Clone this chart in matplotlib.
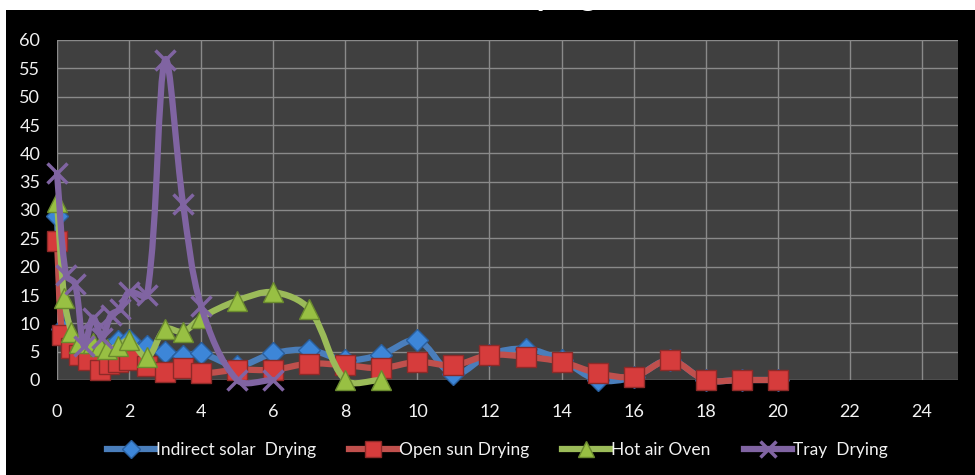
import numpy as np
import matplotlib.pyplot as plt
from matplotlib.path import Path
from matplotlib.patches import PathPatch, Rectangle
from matplotlib.lines import Line2D

plt.rcParams['font.family'] = ['Lato', 'DejaVu Sans']

# drying time (h) and drying rate readings for each method
t_indirect = [0, 0.15, 0.4, 0.6, 0.85, 1.2, 1.45, 1.7, 2, 2.5, 3, 3.5, 4, 5, 6, 7, 8, 9, 10,
              11, 12, 13, 14, 15, 16, 17, 18, 19, 20]
r_indirect = [29, 9, 7, 5.5, 5, 4.5, 5.5, 6.8, 7, 6, 5, 4.3, 4.7, 2.5, 4.7, 5.3, 3.5, 4.5, 7,
              1, 4.5, 5.5, 3.5, 0, 0.5, 3.5, 0, 0, 0]

t_opensun = [0, 0.15, 0.4, 0.6, 0.85, 1.2, 1.45, 1.7, 2, 2.5, 3, 3.5, 4, 5, 6, 7, 8, 9, 10,
             11, 12, 13, 14, 15, 16, 17, 18, 19, 20]
r_opensun = [24.5, 8, 5.6, 4.4, 3.5, 1.8, 2.9, 3.2, 3.5, 2.4, 1.5, 2.1, 1.2, 1.8, 1.8, 2.9, 2.6,
             2.1, 3.2, 2.6, 4.4, 4.1, 3.2, 1.2, 0.6, 3.5, 0, 0, 0]

t_oven = [0, 0.2, 0.4, 0.6, 1, 1.2, 1.4, 1.7, 2, 2.5, 3, 3.5, 4, 5, 6, 7, 8, 9]
r_oven = [31.5, 14.5, 8.5, 6.5, 6.5, 6, 5.5, 6, 7, 4, 9, 8.5, 11, 14, 15.5, 12.5, 0, 0]

t_tray = [0, 0.25, 0.5, 0.75, 1, 1.25, 1.5, 1.75, 2, 2.5, 3, 3.5, 4, 5, 6]
r_tray = [36.5, 18.5, 17, 6, 11, 7.5, 11.5, 12.5, 15.5, 15, 56.5, 31, 13, 0, 0]

labels = ['Indirect solar  Drying', 'Open sun Drying', 'Hot air Oven', 'Tray  Drying']

# rough pixels per data unit, used to weight the spline tangents
SX, SY = 36.0, 5.67


def smooth_path(x, y):
    # spline through the points as cubic bezier segments, tangents scaled by chord length
    p = np.column_stack([x, y]).astype(float)
    n = len(p)
    scale = np.array([SX, SY])

    def dist(a, b):
        return np.hypot(*((b - a) * scale))

    verts = [p[0]]
    codes = [Path.MOVETO]
    for i in range(n - 1):
        p0 = p[i - 1] if i > 0 else p[i]
        p1 = p[i]
        p2 = p[i + 1]
        p3 = p[i + 2] if i + 2 < n else p[i + 1]
        d01, d12, d23 = dist(p0, p1), dist(p1, p2), dist(p2, p3)
        w1 = d12 / (d01 + d12) if d01 + d12 > 0 else 0.5
        w2 = d12 / (d12 + d23) if d12 + d23 > 0 else 0.5
        c1 = p1 + (p2 - p0) * w1 / 3.0
        c2 = p2 - (p3 - p1) * w2 / 3.0
        verts += [c1, c2, p2]
        codes += [Path.CURVE4] * 3
    return Path(verts, codes)


fig = plt.figure(figsize=(9.75, 4.75), dpi=100)
fig.patch.set_facecolor('black')
# white margins along the top and left edge
fig.patches.append(Rectangle((0, 1 - 10 / 475), 1, 10 / 475, transform=fig.transFigure,
                             facecolor='white', edgecolor='none', zorder=0))
fig.patches.append(Rectangle((0, 0), 6 / 975, 1, transform=fig.transFigure,
                             facecolor='white', edgecolor='none', zorder=0))
fig.text(548 / 975, 1 - 6 / 475, 'Drying', color='white', fontsize=24, fontweight='bold',
         ha='center', va='baseline', zorder=1)

ax = fig.add_axes([57 / 975, 95 / 475, 901 / 975, 340 / 475])
ax.set_facecolor('#404040')
ax.set_xlim(0, 25)
ax.set_ylim(0, 60)
ax.set_xticks(np.arange(0, 25, 2))
ax.set_yticks(np.arange(0, 61, 5))
ax.grid(True, color='#8a8a8a', lw=1.0)
ax.set_axisbelow(True)
for s in ax.spines.values():
    s.set_visible(False)
ax.tick_params(colors='#f2f2f2', labelsize=13, length=0)
ax.tick_params(axis='x', pad=17)
ax.tick_params(axis='y', pad=12)

series = [
    (t_indirect, r_indirect, '#4a7ebb', 'D', '#3d86d8', '#2a5f9e', 11, 1),
    (t_opensun, r_opensun, '#c0504d', 's', '#d63c3c', '#8e2a28', 14, 1),
    (t_oven, r_oven, '#9bbb59', '^', '#98c043', '#6a8a2e', 14, 1),
    (t_tray, r_tray, '#8064a2', 'x', '#8064a2', '#8064a2', 14, 2.5),
]

handles = []
for k, (t, r, lc, mk, fc, ec, ms, mew) in enumerate(series):
    z = 3 + 2 * k
    ax.add_patch(PathPatch(smooth_path(t, r), facecolor='none', edgecolor=lc, lw=4.5,
                           capstyle='round', joinstyle='round', zorder=z, clip_on=False))
    ax.plot(t, r, ls='none', marker=mk, ms=ms, mfc=fc, mec=ec, mew=mew, zorder=z + 1,
            clip_on=False)
    handles.append(Line2D([], [], color=lc, lw=4.5, marker=mk, ms=ms * 0.85, mfc=fc, mec=ec,
                          mew=mew))

leg = fig.legend(handles, labels, loc='center', bbox_to_anchor=(0.51, 25 / 475), ncol=4,
                 frameon=False, fontsize=12.5, handlelength=2.8, handletextpad=0.05,
                 columnspacing=1.9, labelcolor='#f2f2f2')

fig.savefig('out.png', dpi=100, facecolor=fig.get_facecolor())
